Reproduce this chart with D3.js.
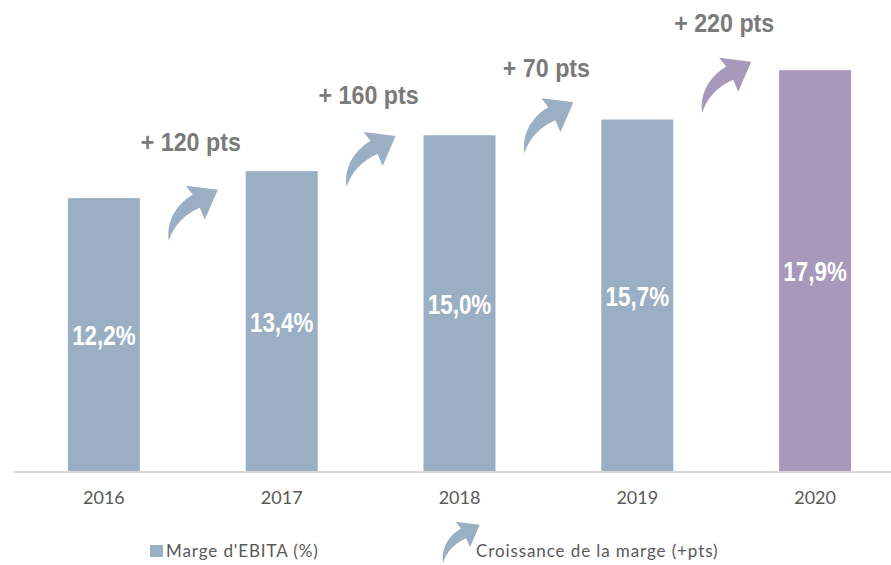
<!DOCTYPE html>
<html>
<head>
<meta charset="utf-8">
<script src="https://cdn.jsdelivr.net/npm/d3@7"></script>
<style>
  html, body { margin: 0; padding: 0; background: #fff; }
  svg { display: block; }
</style>
</head>
<body>
<svg id="chart" width="891" height="565"></svg>
<script>
// data
const years = ["2016", "2017", "2018", "2019", "2020"];
const margins = [12.2, 13.4, 15.0, 15.7, 17.9];
const marginLabels = ["12,2%", "13,4%", "15,0%", "15,7%", "17,9%"];
const gains = ["+ 120 pts", "+ 160 pts", "+ 70 pts", "+ 220 pts"];
const arrowBase = [10.3, 12.7, 14.2, 16.0];   // margin level where each arrow starts
const gainLevel = [14.3, 16.4, 17.6, 19.6];   // margin level of each gain label

const blue = "#9aafc3", purple = "#a898bb";
const colorOf = i => (i === years.length - 1 ? purple : blue);

const svg = d3.select("#chart");

const x = d3.scaleBand().domain(years).range([15, 904])
  .paddingInner(0.595).paddingOuter(0.2975);
const y = d3.scaleLinear().domain([0, 20]).range([472, 23]);

// curved arrow, tail at (0,0)
const arrowPath = "M0,0 C-3,-22 10,-38 24,-46 L17,-55 L49,-51 L36,-21 L31,-33 C15,-26 5,-15 0,0 Z";

// bars
svg.append("g").selectAll("rect").data(margins).join("rect")
  .attr("x", (d, i) => x(years[i]))
  .attr("y", d => y(d))
  .attr("width", x.bandwidth())
  .attr("height", d => y(0) - y(d))
  .attr("fill", (d, i) => colorOf(i));

// baseline
svg.append("line")
  .attr("x1", 14).attr("x2", 891)
  .attr("y1", y(0)).attr("y2", y(0))
  .attr("stroke", "#d9d9d9").attr("stroke-width", 2);

// value labels inside bars
svg.append("g").selectAll("text").data(margins).join("text")
  .attr("transform", (d, i) =>
    `translate(${x(years[i]) + x.bandwidth() / 2},${(y(d) + y(0)) / 2 + 10}) scale(0.8,1)`)
  .attr("text-anchor", "middle")
  .attr("font-family", "Liberation Sans, Arial, sans-serif")
  .attr("font-weight", "bold")
  .attr("font-size", 28)
  .attr("fill", "#fff")
  .text((d, i) => marginLabels[i]);

// x axis labels
const xAxis = svg.append("g")
  .attr("transform", `translate(0,${y(0)})`)
  .call(d3.axisBottom(x).tickSize(0).tickPadding(19));
xAxis.select(".domain").remove();
xAxis.selectAll("text")
  .attr("font-family", "Lato, sans-serif")
  .attr("font-size", 18)
  .attr("fill", "#595959");

// growth arrows and labels
const mid = i => (x(years[i]) + x(years[i + 1]) + x.bandwidth()) / 2;
const growth = svg.append("g").selectAll("g").data(gains).join("g");
growth.append("path")
  .attr("d", arrowPath)
  .attr("transform", (d, i) => `translate(${mid(i) - 24},${y(arrowBase[i])})`)
  .attr("fill", (d, i) => colorOf(i + 1));
growth.append("text")
  .attr("transform", (d, i) => `translate(${mid(i) - 2},${y(gainLevel[i])}) scale(0.93,1)`)
  .attr("text-anchor", "middle")
  .attr("font-family", "Liberation Sans, Arial, sans-serif")
  .attr("font-weight", "bold")
  .attr("font-size", 25)
  .attr("fill", "#7a7a7a")
  .text(d => d);

// legend
const legend = svg.append("g")
  .attr("font-family", "Lato, sans-serif")
  .attr("font-size", 17)
  .attr("letter-spacing", 0.9)
  .attr("fill", "#595959");
legend.append("rect")
  .attr("x", 150).attr("y", 545).attr("width", 13).attr("height", 12)
  .attr("fill", blue);
legend.append("text").attr("x", 166).attr("y", 557).text("Marge d'EBITA (%)");
legend.append("path")
  .attr("d", arrowPath)
  .attr("transform", "translate(443,563) scale(0.75)")
  .attr("fill", blue);
legend.append("text").attr("x", 476).attr("y", 557).text("Croissance de la marge (+pts)");
</script>
</body>
</html>
